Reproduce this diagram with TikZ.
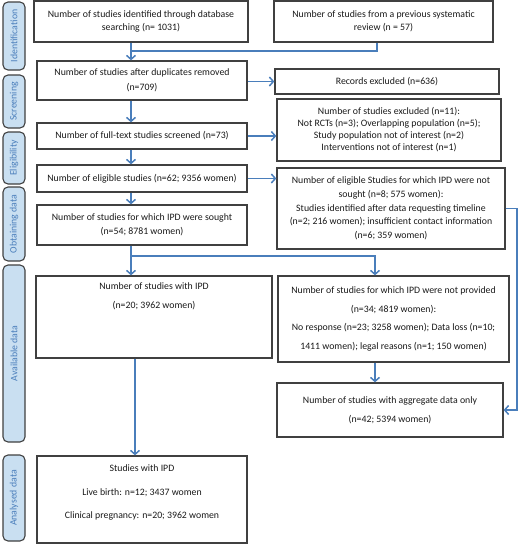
\documentclass[tikz,border=0pt]{standalone}
\usepackage{fontspec}
\setmainfont{Carlito}
\usetikzlibrary{arrows.meta}
\definecolor{arr}{HTML}{4A7EBB}
\definecolor{lblfill}{HTML}{C9DFF1}
\definecolor{lbltext}{HTML}{4A7EBB}
\definecolor{bord}{HTML}{404040}
\definecolor{txt}{HTML}{1A1A1A}
\tikzset{
  box/.style={draw=bord, line width=1.3pt, fill=white, inner sep=0pt, align=center,
    text=txt, font=\fontsize{9.8}{13.5}\selectfont},
  stage/.style={draw=bord, line width=1.1pt, fill=lblfill, rounded corners=5pt,
    minimum width=22pt, inner sep=0pt},
  stagetext/.style={rotate=90, text=lbltext, font=\fontsize{9.8}{11}\selectfont},
  conn/.style={draw=arr, line width=1.8pt},
  arrow/.style={conn, -{Straight Barb[length=4pt,width=9pt,line width=1.5pt]}},
  plain/.style={text=txt, align=center, inner sep=0pt}
}
\begin{document}
\begin{tikzpicture}[x=1pt,y=-1pt]
\useasboundingbox (0,0) rectangle (520,544);
% stage labels
\node[stage, minimum height=68pt] (sid) at (14,36) {};
\node[stagetext] (tid) at (sid.center) {Identification};
\node[stage, minimum height=53pt] (ssc) at (14,101.5) {};
\node[stagetext] (tsc) at (ssc.center) {Screening};
\node[stage, minimum height=52pt] (sel) at (14,158) {};
\node[stagetext] (tel) at (sel.center) {Eligibility};
\node[stage, minimum height=74pt] (sob) at (14,224) {};
\node[stagetext] (tob) at (sob.center) {Obtaining data};
\node[stage, minimum height=177pt] (sav) at (14,353.5) {};
\node[stagetext] (tav) at (sav.center) {Available data};
\node[stage, minimum height=86pt] (san) at (14,498) {};
\node[stagetext] (tan) at (san.center) {Analysed data};

% boxes
\node[box, minimum width=214pt, minimum height=41pt] (b1) at (141,21.5)
  {Number of studies identified through database\\searching (n= 1031)};
\node[box, minimum width=219pt, minimum height=41pt] (b2) at (383.5,21.5)
  {Number of studies from a previous systematic\\review (n = 57)};
\node[box, minimum width=210pt, minimum height=39pt, font=\fontsize{9.8}{15}\selectfont] (b3) at (142,80.5)
  {Number of studies after duplicates removed\\(n=709)};
\node[box, minimum width=224pt, minimum height=25pt] (rex) at (387,81.5)
  {Records excluded (n=636)};
\node[box, minimum width=210pt, minimum height=26pt] (b4) at (142,136)
  {Number of full-text studies screened (n=73)};
\node[box, minimum width=224pt, minimum height=62pt, font=\fontsize{9.8}{12}\selectfont] (exc) at (389,130)
  {Number of studies excluded (n=11):\\Not RCTs (n=3); Overlapping population (n=5);\\Study population not of interest (n=2)\\Interventions not of interest (n=1)};
\node[box, minimum width=210pt, minimum height=27pt] (b5) at (142,178.5)
  {Number of eligible studies (n=62; 9356 women)};
\node[box, minimum width=228pt, minimum height=81pt, font=\fontsize{9.8}{13.7}\selectfont] (ns) at (391,208.5)
  {Number of eligible Studies for which IPD were not\\sought (n=8; 575 women):\\Studies identified after data requesting timeline\\(n=2; 216 women); insufficient contact information\\(n=6; 359 women)};
\node[box, minimum width=210pt, minimum height=40pt, font=\fontsize{9.8}{14}\selectfont] (b6) at (142,225)
  {Number of studies for which IPD were sought\\(n=54; 8781 women)};
\node[box, minimum width=236pt, minimum height=82pt] (b7) at (154,317) {};
\node[plain, font=\fontsize{9.8}{19}\selectfont] (t7) at (154,296)
  {Number of studies with IPD\\(n=20; 3962 women)};
\node[box, minimum width=231pt, minimum height=86pt, font=\fontsize{9.8}{18.5}\selectfont] (b8) at (393.5,319)
  {Number of studies for which IPD were not provided\\(n=34; 4819 women):\\No response (n=23; 3258 women); Data loss (n=10;\\1411 women); legal reasons (n=1; 150 women)};
\node[box, minimum width=226pt, minimum height=54pt, font=\fontsize{9.8}{19}\selectfont] (b9) at (390,410)
  {Number of studies with aggregate data only\\(n=42; 5394 women)};
\node[box, minimum width=210pt, minimum height=87pt] (b10) at (142,499.5) {};
\node[plain, font=\fontsize{9.8}{23.5}\selectfont] (t10) at (142,492.5)
  {Studies with IPD\\Live birth: n=12; 3437 women\\Clinical pregnancy: n=20; 3962 women};

% helper coordinates
\coordinate (ax) at (131,0);
\coordinate (bx) at (377,0);
\coordinate (cx) at (375,0);
\coordinate (dx) at (135,0);
\coordinate (rx) at (517,0);
\coordinate (m1) at (131,51);
\coordinate (s1) at (131,256);

% connectors
\draw[arrow] (b1.south -| ax) -- (b3.north -| ax);
\draw[conn] (b2.south -| bx) |- (m1);
\draw[arrow] (rex.west -| b3.east) -- (rex.west);
\draw[arrow] (b3.south -| ax) -- (b4.north -| ax);
\draw[arrow] (b4.east) -- (b4.east -| exc.west);
\draw[arrow] (b4.south -| ax) -- (b5.north -| ax);
\draw[arrow] (b5.east) -- (b5.east -| ns.west);
\draw[arrow] (b5.south -| ax) -- (b6.north -| ax);
\draw[arrow] (b6.south -| ax) -- (b7.north -| ax);
\draw[arrow] (s1) -| (b8.north -| cx);
\draw[arrow] (ns.east) -- (ns.east -| rx) |- (b9.east);
\draw[arrow] (b8.south -| cx) -- (b9.north -| cx);
\draw[arrow] (b7.south -| dx) -- (b10.north -| dx);
\end{tikzpicture}
\end{document}
